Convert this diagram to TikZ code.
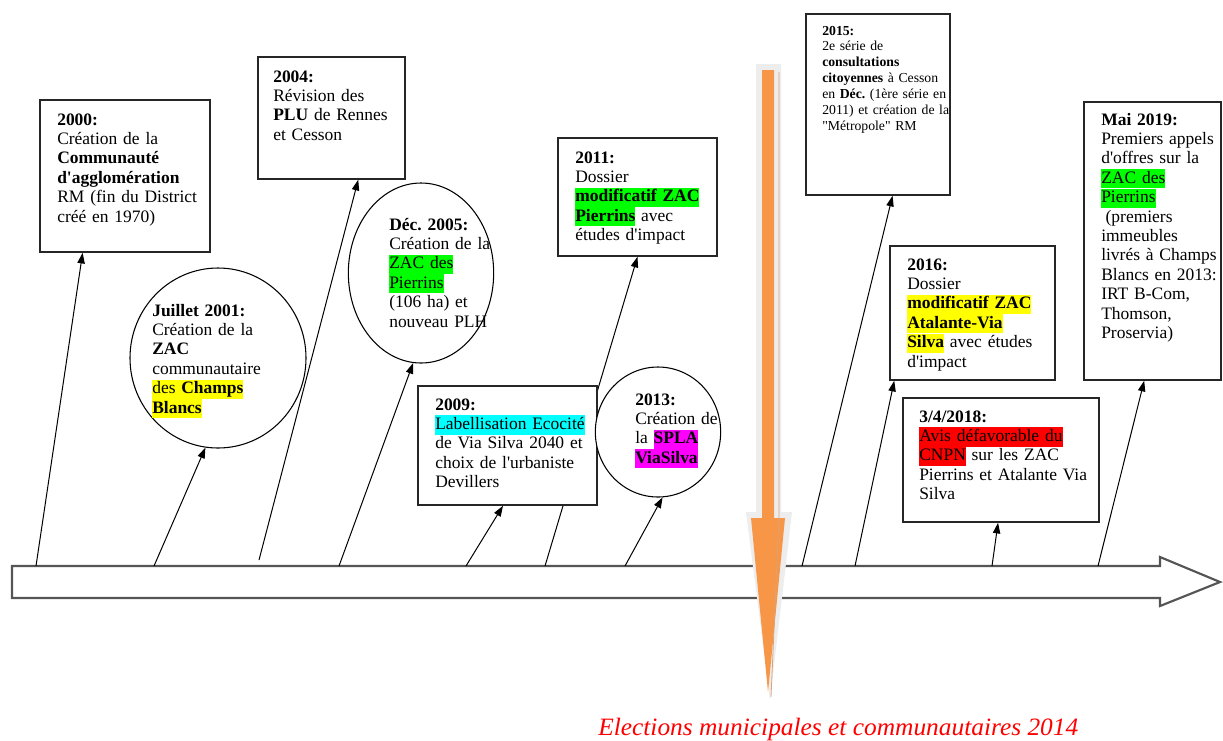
\documentclass[tikz,border=0pt]{standalone}
\usepackage{fontspec}
\setmainfont{Liberation Serif}[Ligatures=TeXOff]
\usepackage{graphicx}
\usetikzlibrary{arrows.meta,shapes.geometric,fit,calc}
\definecolor{orangeA}{HTML}{F79646}
\definecolor{orangeEdge}{HTML}{D9A27A}
\definecolor{haloGray}{HTML}{EDEDED}
\definecolor{hlgreen}{HTML}{00FF00}
\definecolor{hlyellow}{HTML}{FFFF00}
\definecolor{hlcyan}{HTML}{00FFFF}
\definecolor{hlmagenta}{HTML}{FF00FF}
\definecolor{hlred}{HTML}{FF0000}
\definecolor{tlgray}{HTML}{555555}
\newcommand{\hlt}[2]{{\setlength{\fboxsep}{0pt}\colorbox{#1}{\rule[-0.3em]{0pt}{1.1em}#2}}}
\frenchspacing
\tikzset{
  evbox/.style={draw=black!85, line width=1.1pt, inner sep=0pt, fill=white},
  evcirc/.style={draw=black, line width=0.8pt, ellipse, inner sep=0pt, fill=white},
  evtext/.style={anchor=base west, inner sep=0pt, align=left, text width=160pt,
                 font=\fontsize{13.1}{14.55}\selectfont},
  smalltext/.style={evtext, font=\fontsize{10.3}{11.9}\selectfont},
  conn/.style={draw=black, line width=0.75pt, -{Triangle[length=8pt,width=5.5pt]}},
  timeline/.style={draw=tlgray, line width=1.6pt, fill=white, line join=miter},
}
\begin{document}
\begin{tikzpicture}[x=0.75pt,y=-0.75pt]
\useasboundingbox (0,0) rectangle (1223,740);

% timeline arrow
\draw[timeline] (12,566) -- (1160,566) -- (1160,557) -- (1220,582) -- (1160,606) -- (1160,598) -- (12,598) -- cycle;

% base points on the timeline
\coordinate (p1) at (36,566);
\coordinate (p2) at (154,566);
\coordinate (p3) at (259,560);
\coordinate (p4) at (339,566);
\coordinate (p5) at (466,566);
\coordinate (p6) at (545,566);
\coordinate (p7) at (625,566);
\coordinate (p8) at (802,566);
\coordinate (p9) at (855,566);
\coordinate (p10) at (992,566);
\coordinate (p11) at (1098,566);

% shape anchors (defined first, drawn after connectors)
\path
  node[evbox, draw=none, fill=none, fit={(40,100) (210,252)}] (b2000) {}
  node[evcirc, draw=none, fill=none, minimum width=132pt, minimum height=135pt] (c2001) at (218,358) {}
  node[evbox, draw=none, fill=none, fit={(258,57) (405,179)}] (b2004) {}
  node[evcirc, draw=none, fill=none, minimum width=109pt, minimum height=135pt] (c2005) at (421,273) {}
  node[evbox, draw=none, fill=none, fit={(418,386) (597,505)}] (b2009) {}
  node[evbox, draw=none, fill=none, fit={(558,138) (717,256)}] (b2011) {}
  node[evcirc, draw=none, fill=none, minimum width=94pt, minimum height=97.5pt] (c2013) at (658,432) {}
  node[evbox, draw=none, fill=none, fit={(806,14) (950,195)}] (b2015) {}
  node[evbox, draw=none, fill=none, fit={(890,246) (1055,380)}] (b2016) {}
  node[evbox, draw=none, fill=none, fit={(903,398) (1099,522)}] (b2018) {}
  node[evbox, draw=none, fill=none, fit={(1084,102) (1221,380)}] (b2019) {};

% connectors
\draw[conn] (p1) -- ($(b2000.south west)!0.253!(b2000.south east)$);
\draw[conn] (p2) -- (c2001.262);
\draw[conn] (p3) -- ($(b2004.south west)!0.68!(b2004.south east)$);
\draw[conn] (p4) -- (c2005.265);
\draw[conn] (p5) -- ($(b2009.south west)!0.475!(b2009.south east)$);
\draw[conn] (p6) -- (b2011.south);
\draw[conn] (p7) -- (c2013.274);
\draw[conn] (p8) -- ($(b2015.south west)!0.6!(b2015.south east)$);
\draw[conn] (p9) -- ($(b2016.south west)!0.03!(b2016.south east)$);
\draw[conn] (p10) -- ($(b2018.south west)!0.485!(b2018.south east)$);
\draw[conn] (p11) -- ($(b2019.south west)!0.44!(b2019.south east)$);

% visible boxes and circles (over the connectors)
\node[evbox, fit={(40,100) (210,252)}] (v2000) {};
\node[evcirc, minimum width=132pt, minimum height=135pt] (w2001) at (218,358) {};
\node[evbox, fit={(258,57) (405,179)}] (v2004) {};
\node[evcirc, minimum width=109pt, minimum height=135pt] (w2005) at (421,273) {};
\node[evbox, fit={(418,386) (597,505)}] (v2009) {};
\node[evbox, fit={(558,138) (717,256)}] (v2011) {};
\node[evcirc, minimum width=94pt, minimum height=97.5pt] (w2013) at (658,432) {};
\node[evbox, fit={(806,14) (950,195)}] (v2015) {};
\node[evbox, fit={(890,246) (1055,380)}] (v2016) {};
\node[evbox, fit={(903,398) (1099,522)}] (v2018) {};
\node[evbox, fit={(1084,102) (1221,380)}] (v2019) {};

% texts
\node[evtext] (t2000) at (57,125) {\textbf{2000:}\\Création de la\\\textbf{Communauté}\\\textbf{d'agglomération}\\RM (fin du District\\créé en 1970)};
\node[evtext] (t2001) at (152,316) {\textbf{Juillet 2001:}\\Création de la\\\textbf{ZAC}\\communautaire\\\hlt{hlyellow}{des \textbf{Champs}}\\\hlt{hlyellow}{\textbf{Blancs}}};
\node[evtext] (t2004) at (273,82) {\textbf{2004:}\\Révision des\\\textbf{PLU} de Rennes\\et Cesson};
\node[evtext] (t2005) at (389,230) {\textbf{Déc. 2005:}\\Création de la\\\hlt{hlgreen}{ZAC des}\\\hlt{hlgreen}{Pierrins}\\(106 ha) et\\nouveau PLH};
\node[evtext] (t2009) at (435,410) {\textbf{2009:}\\\hlt{hlcyan}{Labellisation Ecocité}\\de Via Silva 2040 et\\choix de l'urbaniste\\Devillers};
\node[evtext] (t2011) at (575,163) {\textbf{2011:}\\Dossier\\\hlt{hlgreen}{\textbf{modificatif ZAC}}\\\hlt{hlgreen}{\textbf{Pierrins}} avec\\études d'impact};
\node[evtext] (t2013) at (635,405) {\textbf{2013:}\\Création de\\la \hlt{hlmagenta}{\textbf{SPLA}}\\\hlt{hlmagenta}{\textbf{ViaSilva}}};
\node[smalltext] (t2015) at (822,35) {\textbf{2015:}\\2e série de\\\textbf{consultations}\\\textbf{citoyennes} à Cesson\\en \textbf{Déc.} (1ère série en\\2011) et création de la\\"Métropole" RM};
\node[evtext] (t2016) at (907,270) {\textbf{2016:}\\Dossier\\\hlt{hlyellow}{\textbf{modificatif ZAC}}\\\hlt{hlyellow}{\textbf{Atalante-Via}}\\\hlt{hlyellow}{\textbf{Silva}} avec études\\d'impact};
\node[evtext] (t2018) at (919,422) {\textbf{3/4/2018:}\\\hlt{hlred}{Avis défavorable du}\\\hlt{hlred}{CNPN} sur les ZAC\\Pierrins et Atalante Via\\Silva};
\node[evtext] (t2019) at (1101,125) {\textbf{Mai 2019:}\\Premiers appels\\d'offres sur la\\\hlt{hlgreen}{ZAC des}\\\hlt{hlgreen}{Pierrins}\\\hspace*{0.25em}(premiers\\immeubles\\livrés à Champs\\Blancs en 2013:\\IRT B-Com,\\Thomson,\\Proservia)};

% orange election arrow
\fill[haloGray] (756,64) -- (781,64) -- (781,512) -- (792,512) -- (770,700) -- (746,512) -- (756,512) -- cycle;
\fill[orangeA] (762,70) -- (774,70) -- (774,518) -- (785,518) -- (768,692) -- (751,518) -- (762,518) -- cycle;
\draw[orangeEdge, line width=0.6pt] (779,72) -- (779,516) -- (771,697);

% caption
\node[anchor=base west, inner sep=0pt, text=red] (cap) at (598,735)
  {\resizebox{360pt}{13pt}{\itshape Elections municipales et communautaires 2014}};
\end{tikzpicture}
\end{document}
